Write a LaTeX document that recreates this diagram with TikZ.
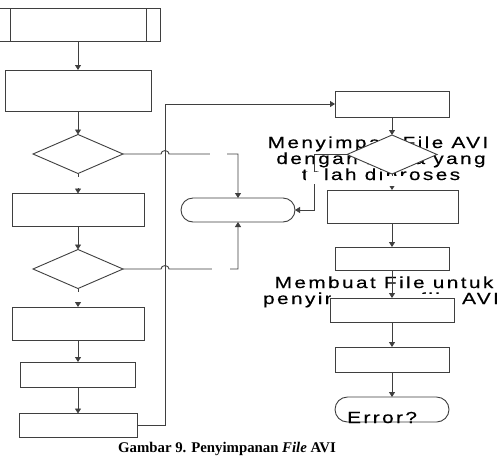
\documentclass[tikz,border=0pt]{standalone}
\usepackage{fontspec}
\setmainfont{Liberation Serif}
\newfontfamily\labfont[LetterSpace=15,FakeStretch=1.3,FakeBold=0.4]{Liberation Sans}
\usetikzlibrary{shapes.geometric,shapes.misc,arrows.meta}
\definecolor{lc}{HTML}{3F3F3F}
\begin{document}
\begin{tikzpicture}[x=1pt,y=-1pt,
  shp/.style={draw=lc, fill=white, line width=0.9pt, inner sep=0pt, outer sep=0pt},
  box/.style={shp, rectangle},
  dia/.style={shp, diamond, minimum width=90pt, minimum height=39pt},
  term/.style={shp, rounded rectangle, minimum width=114pt},
  conn/.style={draw=lc, line width=0.9pt, -{Triangle[length=5pt,width=6pt]}},
  plain/.style={draw=lc, line width=0.9pt},
  lab/.style={inner sep=0pt, anchor=base, font=\labfont\fontsize{16pt}{16pt}\selectfont, text=black}
]
\useasboundingbox (0,0) rectangle (502,464);
\fill[white] (0,0) rectangle (502,464);
% overlapping texts (drawn first, hidden partly by shapes)
\node[lab] (m1) at (378,148) {Menyimpan File AVI};
\node[lab] (m2) at (381,164) {dengan nama yang};
\node[lab] (m3) at (381,180) {telah diproses};
\node[lab] (k1) at (384,288) {Membuat File untuk};
\node[lab] (k2) at (381,304) {penyimpanan file AVI};
% left column
\node[box, minimum width=161pt, minimum height=33pt] (P0) at (79.5,24.5) {};
\draw[plain] ([xshift=11pt]P0.north west) -- ([xshift=11pt]P0.south west);
\draw[plain] ([xshift=-14pt]P0.north east) -- ([xshift=-14pt]P0.south east);
\node[box, minimum width=146pt, minimum height=41pt] (B1) at (78,90.5) {};
\node[dia] (D1) at (78,154) {};
\node[box, minimum width=132pt, minimum height=33pt] (B2) at (78,210) {};
\node[dia] (D2) at (78,269) {};
\node[box, minimum width=132pt, minimum height=33pt] (B3) at (78,323.5) {};
\node[box, minimum width=115pt, minimum height=25pt] (B4) at (78,374.5) {};
\node[box, minimum width=118pt, minimum height=24pt] (B5) at (78,425.5) {};
\node[term, minimum height=24pt] (T1) at (238,210) {};
% right column
\node[box, minimum width=114pt, minimum height=26pt] (R1) at (392,104) {};
\node[dia] (DR) at (392,154.5) {};
\node[box, minimum width=131pt, minimum height=33pt] (R2) at (392.5,206.5) {};
\node[box, minimum width=114pt, minimum height=23pt] (R3) at (392,258.5) {};
\node[box, minimum width=124pt, minimum height=24pt] (R4) at (392,310) {};
\fill[white] (331,293.5) rectangle (453,298);
\node[box, minimum width=114pt, minimum height=25pt] (R5) at (392,359.5) {};
\node[term, minimum height=25pt] (T2) at (392,409.5) {};
\node[lab, anchor=base west] (err) at (347,423) {Error?};
% connectors
\draw[conn] (P0.south -| B1.north) -- (B1.north);
\draw[conn] (B1) -- (D1);
\draw[conn] (D1) -- (B2);
\draw[conn] (B2) -- (D2);
\draw[conn] (D2) -- (B3);
\draw[conn] (B3) -- (B4);
\draw[conn] (B4) -- (B5);
\draw[conn] (B5.east) -- (165,425.5) -- (165,104) -- (R1.west);
\draw[conn] (D1.east) -- (161,154) .. controls (161,149.5) and (169,149.5) .. (169,154) -- (238,154) -- (T1.north);
\draw[conn] (D2.east) -- (161,269) .. controls (161,264.5) and (169,264.5) .. (169,269) -- (238,269) -- (T1.south);
\draw[conn] (R1) -- (DR);
\draw[conn] (DR.south) -- (DR.south |- R2.north);
\draw[conn] (DR.west) -- (314,154.5) -- (314,210) -- (T1.east);
\draw[conn] (R2.south -| R3.north) -- (R3.north);
\draw[conn] (R3) -- (R4);
\draw[conn] (R4) -- (R5);
\draw[conn] (R5) -- (T2);
% empty label areas (white)
\fill[white] (71,177) rectangle (85,187.5);
\fill[white] (71,292) rectangle (85,301.5);
\fill[white] (210,149) rectangle (227,159);
\fill[white] (212,264) rectangle (230,274);
\fill[white] (385,176) rectangle (403,185.5);
\fill[white] (306,172) rectangle (321,184);
% caption
\node[inner sep=0pt, anchor=base, font=\fontsize{14.8pt}{16pt}\selectfont\bfseries] (cap) at (227,452.5) {Gambar 9. Penyimpanan \textit{File} AVI};
\end{tikzpicture}
\end{document}
